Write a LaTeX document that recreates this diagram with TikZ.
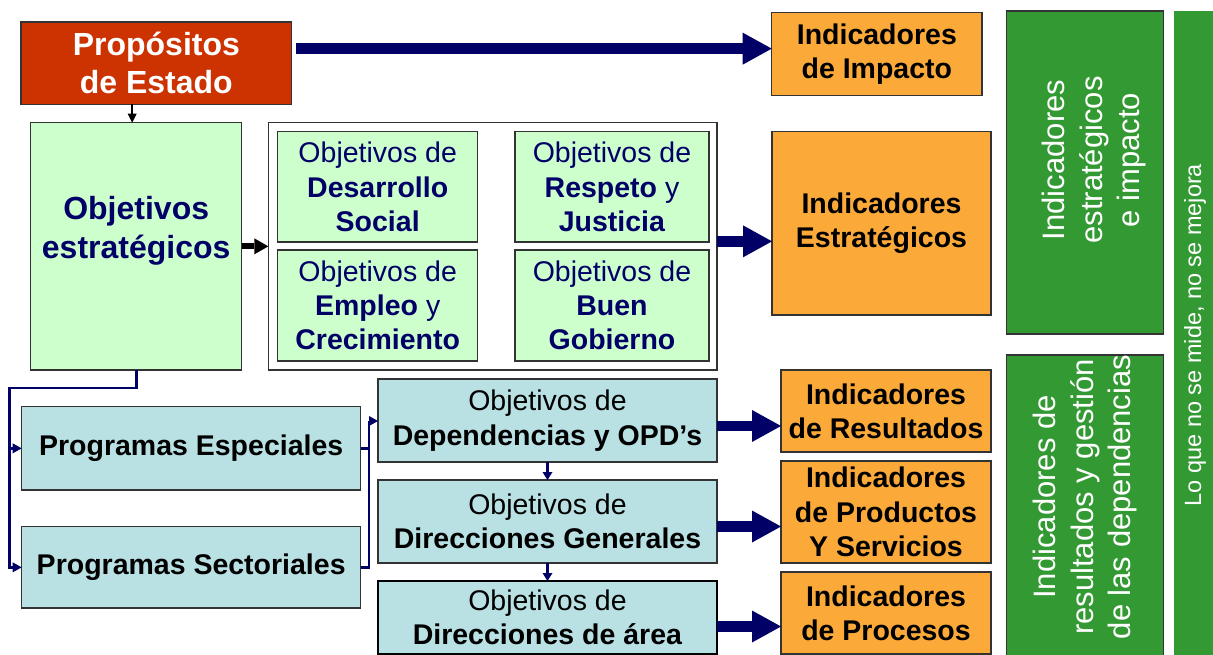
\documentclass[tikz,border=0pt]{standalone}
\usepackage{fontspec}
\setmainfont{Liberation Sans}
\usetikzlibrary{arrows.meta,calc}
\definecolor{cred}{HTML}{CC3300}
\definecolor{corange}{HTML}{FBAA3A}
\definecolor{clgreen}{HTML}{CCFFCC}
\definecolor{clblue}{HTML}{B9E0E3}
\definecolor{cgreen}{HTML}{339933}
\definecolor{cnavy}{HTML}{000066}
\definecolor{cborder}{HTML}{333333}
\newcommand\fA{\fontsize{28.5}{34.3}\selectfont}
\newcommand\fB{\fontsize{32}{38.5}\selectfont}
\newcommand\fC{\fontsize{31}{37.5}\selectfont}
\newcommand\fD{\fontsize{23.5}{28}\selectfont}
\newcommand\bx[7]{\node[box,#6,minimum width={#4-#2},minimum height={#5-#3}] (#1) at ({(#2+#4)/2},{(#3+#5)/2}) {#7};}
\begin{document}
\begin{tikzpicture}[x=1pt,y=-1pt,
  box/.style={draw=cborder, line width=1.3pt, inner sep=0pt, outer sep=0pt, align=center},
  orangebox/.style={fill=corange, font=\fA\bfseries},
  greenobj/.style={fill=clgreen, text=cnavy, font=\fA},
  bluebox/.style={fill=clblue, font=\fA},
  rot/.style={rotate=90, text=white, align=center, inner sep=0pt},
  big/.style={draw=cnavy, line width=10.5pt, -{Triangle[length=29pt,width=32pt,line width=0pt]}},
  conn/.style={draw=cnavy, line width=2.8pt, -{Triangle[length=9pt,width=10pt,line width=0pt]}},
  sconn/.style={draw=cnavy, line width=2.5pt, -{Triangle[length=8pt,width=10pt,line width=0pt]}},
  blk/.style={draw=black, line width=6pt, -{Triangle[length=14pt,width=16pt,line width=0pt]}},
  thinblk/.style={draw=black, line width=1.6pt, -{Triangle[length=9pt,width=9pt,line width=0pt]}}
]
\useasboundingbox (0,0) rectangle (1213,655);
\fill[white] (0,0) rectangle (1213,655);

% top row
\bx{prop}{21}{22}{291.7}{104.3}{fill=cred,text=white,font=\fB\bfseries}{Propósitos\\de Estado}
\bx{imp}{771.7}{12.7}{982}{95.7}{orangebox}{Indicadores\\de Impacto}

% strategic objectives
\bx{objest}{30.7}{122.7}{241.7}{370}{fill=clgreen}{}
\node[text=cnavy, font=\fB\bfseries, align=center] (objestt) at (136.2,231) {Objetivos\\estratégicos};
\bx{wb}{268.3}{122.7}{717}{370}{fill=white}{}
\bx{ods}{277.7}{131.7}{477.7}{242}{greenobj}{Objetivos de\\\textbf{Desarrollo}\\\textbf{Social}}
\bx{orj}{515}{131.7}{709}{242}{greenobj}{Objetivos de\\\textbf{Respeto} y\\\textbf{Justicia}}
\bx{oec}{277.7}{250}{477.7}{361}{greenobj}{Objetivos de\\\textbf{Empleo} y\\\textbf{Crecimiento}}
\bx{obg}{515}{250}{709}{361}{greenobj}{Objetivos de\\\textbf{Buen}\\\textbf{Gobierno}}
\bx{ie}{772}{131.7}{991}{315}{orangebox}{Indicadores\\Estratégicos}

% programs
\bx{pe}{21.7}{406.7}{360.7}{490}{bluebox,font=\fA\bfseries}{Programas Especiales}
\bx{ps}{21.7}{526.7}{360.7}{608}{bluebox,font=\fA\bfseries}{Programas Sectoriales}

% dependencies
\bx{dep}{378}{379}{717}{462}{bluebox}{Objetivos de\\\textbf{Dependencias y OPD’s}}
\bx{dg}{378}{480}{717}{563}{bluebox}{Objetivos de\\\textbf{Direcciones Generales}}
\bx{da}{378}{581}{717}{654}{bluebox,draw=black,line width=2.6pt}{Objetivos de\\\textbf{Direcciones de área}}

% indicators
\bx{res}{781}{370}{991}{452}{orangebox}{Indicadores\\de Resultados}
\bx{prod}{781}{461}{991}{563}{orangebox}{Indicadores\\de Productos\\Y Servicios}
\bx{proc}{781}{572}{991}{654}{orangebox}{Indicadores\\de Procesos}

% green side panels
\bx{g1}{1006.7}{11}{1163.5}{334}{fill=cgreen}{}
\bx{g2}{1006.7}{355}{1163.5}{662}{fill=cgreen}{}
\bx{g3}{1174.3}{11}{1222}{662}{fill=cgreen,draw=none}{}
\node[rot, font=\fC] (g1t) at (1094,160) {Indicadores\\estratégicos\\e impacto};
\node[rot, font=\fC] (g2t) at (1085,497) {Indicadores de\\resultados y gestión\\de las dependencias};
\node[rot, font=\fD] (g3t) at (1195,335) {Lo que no se mide, no se mejora};

% connectors
\coordinate (c1) at (9.3,388);
\coordinate (c2) at (369,421);
\draw[big] ([xshift=4pt,yshift=14.5pt]prop.east) -- ([yshift=14.5pt]prop.east -| imp.west);
\draw[thinblk] ([xshift=-4pt]objest.north |- prop.south) -- ([xshift=-4pt]objest.north);
\draw[blk] (objest.east) -- (wb.west);
\draw[big] ([yshift=5pt]wb.east) -- ([yshift=5pt]wb.east -| ie.west);
\draw[conn] (objest.south) |- (c1) |- (pe.west);
\draw[conn] (c1) |- (ps.west);
\draw[conn, -] (pe.east) -| (c2);
\draw[conn, -] (ps.east) -| (c2);
\draw[conn] (c2) -- (c2 -| dep.west);
\draw[sconn] (dep.south) -- (dg.north);
\draw[sconn] (dg.south) -- (da.north);
\draw[big] ([yshift=-5.5pt]dep.east) -- ([yshift=-5.5pt]dep.east -| res.west);
\draw[big] ([yshift=-5pt]dg.east) -- ([yshift=-5pt]dg.east -| prod.west);
\draw[big] ([yshift=-9pt]da.east) -- ([yshift=-9pt]da.east -| proc.west);
\end{tikzpicture}
\end{document}
